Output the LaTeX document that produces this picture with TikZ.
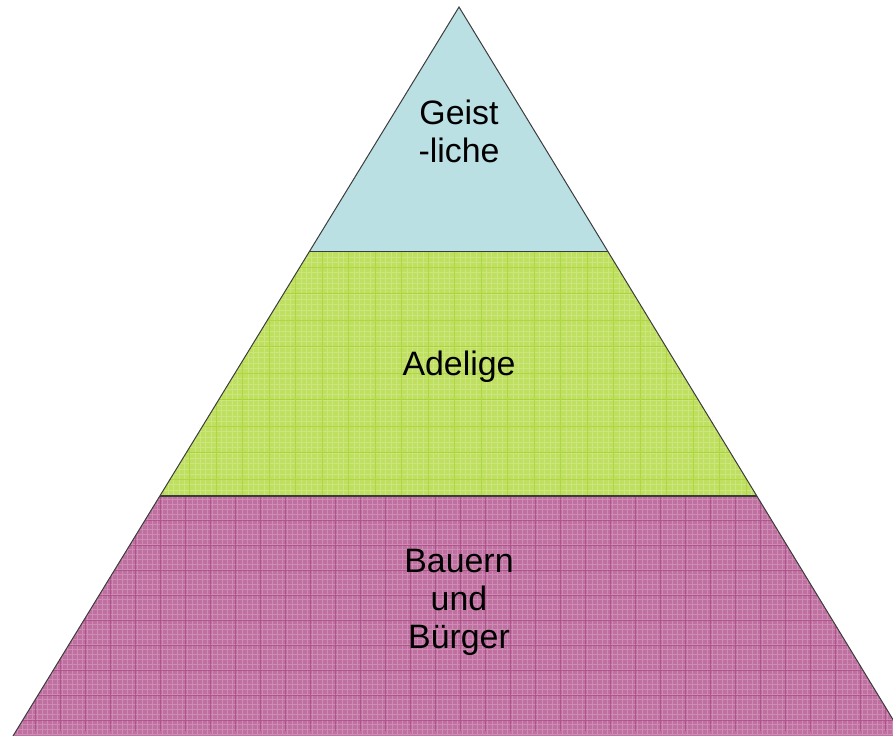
\documentclass[tikz,border=0pt]{standalone}
\usepackage{fontspec}
\setmainfont{Liberation Sans}

\definecolor{geistblue}{RGB}{186,224,228}
\definecolor{adelgreen}{RGB}{190,223,96}
\definecolor{adelline}{RGB}{158,204,30}
\definecolor{bauernpink}{RGB}{192,112,160}
\definecolor{bauernline}{RGB}{166,62,128}
\definecolor{rimgray}{RGB}{60,60,60}

\tikzset{
    layertext/.style = {align = center, inner sep = 0pt, font = \fontsize{34}{38}\selectfont},
    rim/.style = {draw = rimgray, line width = 1bp},
    finegrid/.style = {line width = 0.3bp, opacity = 0.2},
    coarsegrid/.style = {line width = 0.9bp, opacity = 0.6}
}

\begin{document}
\begin{tikzpicture}[x=1bp,y=-1bp]
    \useasboundingbox (0,0) rectangle (893,736);
    \clip (0,0) rectangle (893,736);

    \coordinate (apex) at (459,7);
    \coordinate (tl) at (309.7,251);
    \coordinate (tr) at (607.6,251);
    \coordinate (ml) at (159.8,496);
    \coordinate (mr) at (757,496);
    \coordinate (bl) at (13,736);
    \coordinate (br) at (903,736);

    % top layer
    \fill[geistblue] (apex) -- (tl) -- (tr) -- cycle;

    % middle layer
    \begin{scope}
        \clip (tl) -- (tr) -- (mr) -- (ml) -- cycle;
        \fill[adelgreen] (0,0) rectangle (893,736);
        \draw[finegrid, white, xshift=4bp, yshift=3bp] (0,0) grid[step=5.3bp] (893,736);
        \draw[coarsegrid, adelline, xshift=4bp, yshift=-2bp] (0,0) grid[step=26.5bp] (893,736);
    \end{scope}

    % bottom layer
    \begin{scope}
        \clip (ml) -- (mr) -- (br) -- (bl) -- cycle;
        \fill[bauernpink] (0,0) rectangle (893,736);
        \draw[finegrid, white, xshift=2bp, yshift=1bp] (0,0) grid[step=5bp] (893,736);
        \draw[coarsegrid, bauernline, xshift=10bp, yshift=5bp] (0,0) grid[step=25bp] (893,736);
    \end{scope}

    \draw[rim] (bl) -- (apex) -- (br);
    \draw[rim] (tl) -- (tr);
    \draw[rim, line width = 2bp] (ml) -- (mr);

    \node[layertext] (geist) at (459,131) {Geist\\-liche};
    \node[layertext, anchor = base] (adel) at (459,375) {Adelige};
    \node[layertext] (bauern) at (459,602.5) {Bauern\\und\\Bürger};
\end{tikzpicture}
\end{document}
